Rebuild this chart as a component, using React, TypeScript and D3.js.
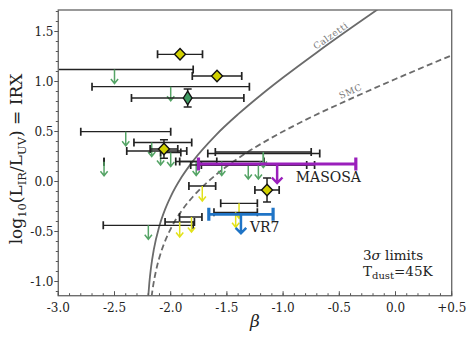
import React from "react";
import * as d3 from "d3";

// frame
const betaDomain = [-3.0, 0.5];
const irxDomain = [-1.142, 1.715];

const xTickValues = [-3.0, -2.5, -2.0, -1.5, -1.0, -0.5, 0.0, 0.5];
const xTickLabels = ["-3.0", "-2.5", "-2.0", "-1.5", "-1.0", "-0.5", "0.0", "+0.5"];
const yTickValues = [-1.0, -0.5, 0.0, 0.5, 1.0, 1.5];
const yTickLabels = ["-1.0", "-0.5", "0.0", "0.5", "1.0", "1.5"];

// IRX-beta relations, points
const calzettiBeta = [-2.2, -2.19, -2.175, -2.15, -2.1, -2.05, -2.0, -1.9, -1.8, -1.6, -1.4, -1.2, -1.0, -0.7, -0.4, -0.15];
const calzettiIrx = [-1.154, -1.013, -0.86, -0.679, -0.443, -0.279, -0.151, 0.049, 0.207, 0.462, 0.673, 0.863, 1.04, 1.291, 1.532, 1.728];
const smcBeta = [-2.17, -2.16, -2.13, -2.1, -2.05, -2.0, -1.9, -1.8, -1.6, -1.4, -1.1, -0.8, -0.4, 0.0, 0.5];
const smcIrx = [-1.152, -1.071, -0.889, -0.758, -0.596, -0.473, -0.288, -0.149, 0.065, 0.232, 0.439, 0.616, 0.826, 1.025, 1.262];

// detections (yellow diamonds)
const detBeta = [-1.917, -1.588, -2.06, -1.143];
const detIrx = [1.272, 1.055, 0.325, -0.085];
const detXerr = [0.2, 0.22, 0.123, 0.108];
const detYerr = [0, 0, 0.092, 0.12];

// stacked detection (green diamond)
const stackBeta = [-1.849];
const stackIrx = [0.835];
const stackXerr = [0.5];
const stackYerr = [0.09];

// green 3-sigma upper limits
const greenBeta = [-2.5, -2.0, -2.4, -2.169, -2.09, -2.0, -1.773, -1.546, -1.31, -1.22, -1.176, -1.176, -2.593, -2.199];
const greenIrx = [1.12, 0.948, 0.498, 0.39, 0.305, 0.29, 0.2, 0.2, 0.165, 0.165, 0.28, 0.295, 0.198, -0.438];
const greenLo = [-3.2, -2.7, -2.8, -2.327, -2.391, -2.09, -1.955, -1.92, -1.822, -1.727, -1.67, -1.603, -2.593, -2.6];
const greenHi = [-1.8, -1.3, -2.0, -1.813, -1.857, -1.91, -1.59, -1.17, -0.79, -0.72, -0.674, -0.75, -2.593, -1.8];

// yellow 3-sigma upper limits
const yellowBeta = [-1.719, -1.392, -1.422, -1.92, -1.815];
const yellowIrx = [-0.045, -0.218, -0.308, -0.405, -0.355];
const yellowLo = [-1.838, -1.555, -1.615, -2.05, -1.921];
const yellowHi = [-1.6, -1.229, -1.229, -1.789, -1.722];

// named sources
const namedLabels = ["MASOSA", "VR7"];
const namedBeta = [-1.053, -1.375];
const namedIrx = [0.175, -0.328];
const namedXerr = [0.7, 0.286];

const GREEN = "#55a466";
const YELLOW = "#e2e21a";
const DIAMOND = "#d0d000";
const STACK = "#3f9a62";
const namedColors = ["#9a1fbb", "#1f74c6"];
const CURVE = "#6b6b6b";
const INK = "#222";
const FONT = "DejaVu Serif";

const x = d3.scaleLinear().domain(betaDomain).range([58.3, 451.7]);
const y = d3.scaleLinear().domain(irxDomain).range([295.7, 10]);

const curvePath = (bs: number[], vs: number[]) =>
  d3
    .line<[number, number]>()
    .x((d) => x(d[0]))
    .y((d) => y(d[1]))
    .curve(d3.curveMonotoneX)(bs.map((b, i) => [b, vs[i]]));

const XBar = ({ lo, hi, v, cap = 4, color = INK, w = 1.3 }: any) => (
  <g stroke={color} strokeWidth={w}>
    <line x1={x(lo)} x2={x(hi)} y1={y(v)} y2={y(v)} />
    <line x1={x(lo)} x2={x(lo)} y1={y(v) - cap} y2={y(v) + cap} strokeWidth={w + 0.4} />
    <line x1={x(hi)} x2={x(hi)} y1={y(v) - cap} y2={y(v) + cap} strokeWidth={w + 0.4} />
  </g>
);

const YBar = ({ b, lo, hi, cap = 4 }: any) => (
  <g stroke={INK} strokeWidth={1.5}>
    <line x1={x(b)} x2={x(b)} y1={y(lo)} y2={y(hi)} />
    <line x1={x(b) - cap} x2={x(b) + cap} y1={y(lo)} y2={y(lo)} />
    <line x1={x(b) - cap} x2={x(b) + cap} y1={y(hi)} y2={y(hi)} />
  </g>
);

const Arrow = ({ b, v, color, len = 14, hw = 3.6, hl = 4.5, w = 1.5 }: any) => {
  const px = x(b);
  const top = y(v);
  const end = top + len;
  return (
    <path
      d={`M${px},${top}L${px},${end}M${px - hw},${end - hl}L${px},${end}L${px + hw},${end - hl}`}
      fill="none"
      stroke={color}
      strokeWidth={w}
    />
  );
};

const Diamond = ({ b, v, fill, rx = 5.5, ry = 5.8 }: any) => {
  const px = x(b);
  const py = y(v);
  return (
    <path
      d={`M${px},${py - ry}L${px + rx},${py}L${px},${py + ry}L${px - rx},${py}Z`}
      fill={fill}
      stroke="#111"
      strokeWidth={1.4}
    />
  );
};

export default function App() {
  const [x0, x1] = x.range();
  const [y0, y1] = y.range();
  const xMinor = d3.range(-30, 6).map((i) => i / 10);
  const yMinor = d3.range(-11, 18).map((i) => i / 10);

  // points on the curves where the labels sit
  const calLab = [-0.55, 1.415];
  const smcLab = [-0.38, 0.85];

  return (
    <svg
      width={474}
      height={346}
      style={{ position: "absolute", left: 0, top: 0, background: "#fff" }}
      fontFamily={FONT}
    >
      <defs>
        <clipPath id="plotArea">
          <rect x={x0} y={y1} width={x1 - x0} height={y0 - y1} />
        </clipPath>
      </defs>

      <g clipPath="url(#plotArea)">
        <path d={curvePath(calzettiBeta, calzettiIrx) || ""} fill="none" stroke={CURVE} strokeWidth={1.8} />
        <path
          d={curvePath(smcBeta, smcIrx) || ""}
          fill="none"
          stroke={CURVE}
          strokeWidth={1.8}
          strokeDasharray="6,3.5"
        />
        <text
          transform={`translate(${x(calLab[0])},${y(calLab[1])}) rotate(-35)`}
          y={-2}
          textAnchor="middle"
          fontSize={9}
          letterSpacing={0.6}
          fill="#777"
        >
          Calzetti
        </text>
        <text
          transform={`translate(${x(smcLab[0])},${y(smcLab[1])}) rotate(-24)`}
          y={-2.5}
          textAnchor="middle"
          fontSize={9}
          letterSpacing={0.6}
          fill="#777"
        >
          SMC
        </text>

        {/* green upper limits */}
        {greenBeta.map((b, i) => (
          <g key={"g" + i}>
            <XBar lo={greenLo[i]} hi={greenHi[i]} v={greenIrx[i]} />
            <Arrow b={b} v={greenIrx[i]} color={GREEN} />
          </g>
        ))}

        {/* yellow upper limits */}
        {yellowBeta.map((b, i) => (
          <g key={"y" + i}>
            <XBar lo={yellowLo[i]} hi={yellowHi[i]} v={yellowIrx[i]} />
            <Arrow b={b} v={yellowIrx[i]} color={YELLOW} len={15} />
          </g>
        ))}

        {/* named limits */}
        {namedBeta.map((b, i) => (
          <g key={"n" + i}>
            <XBar
              lo={b - namedXerr[i]}
              hi={b + namedXerr[i]}
              v={namedIrx[i]}
              cap={6.5}
              color={namedColors[i]}
              w={2.8}
            />
            <Arrow b={b} v={namedIrx[i]} color={namedColors[i]} len={19} hw={5.3} hl={5.5} w={2.5} />
          </g>
        ))}

        {/* stacked detection */}
        {stackBeta.map((b, i) => (
          <g key={"s" + i}>
            <XBar lo={b - stackXerr[i]} hi={b + stackXerr[i]} v={stackIrx[i]} />
            <YBar b={b} lo={stackIrx[i] - stackYerr[i]} hi={stackIrx[i] + stackYerr[i]} />
            <Diamond b={b} v={stackIrx[i]} fill={STACK} rx={4.3} ry={6.8} />
          </g>
        ))}

        {/* detections */}
        {detBeta.map((b, i) => (
          <g key={"d" + i}>
            <XBar lo={b - detXerr[i]} hi={b + detXerr[i]} v={detIrx[i]} />
            {detYerr[i] > 0 && <YBar b={b} lo={detIrx[i] - detYerr[i]} hi={detIrx[i] + detYerr[i]} />}
            <Diamond b={b} v={detIrx[i]} fill={DIAMOND} />
          </g>
        ))}
      </g>

      {/* labels of the named sources */}
      <text x={x(namedBeta[0] + 0.165)} y={y(namedIrx[0]) + 17.7} fontSize={14} fill={INK}>
        {namedLabels[0]}
      </text>
      <text x={x(namedBeta[1] + 0.08)} y={y(namedIrx[1]) + 18} fontSize={14} fill={INK}>
        {namedLabels[1]}
      </text>

      {/* frame */}
      <rect x={x0} y={y1} width={x1 - x0} height={y0 - y1} fill="none" stroke="#6e6e6e" strokeWidth={1.4} />

      {/* ticks: x inward, y outward */}
      <g stroke="#555" strokeWidth={1}>
        {xMinor.map((t) => (
          <line key={"xm" + t} x1={x(t)} x2={x(t)} y1={y0} y2={y0 - 2.5} />
        ))}
        {xTickValues.map((t) => (
          <line key={"xM" + t} x1={x(t)} x2={x(t)} y1={y0} y2={y0 - 4.5} />
        ))}
        {yMinor.map((t) => (
          <line key={"ym" + t} x1={x0} x2={x0 - 2.5} y1={y(t)} y2={y(t)} />
        ))}
        {yTickValues.map((t) => (
          <line key={"yM" + t} x1={x0} x2={x0 - 4} y1={y(t)} y2={y(t)} />
        ))}
      </g>
      {xTickValues.map((t, i) => (
        <text key={"xl" + t} x={x(t)} y={311.5} textAnchor="middle" fontSize={12} fill={INK}>
          {xTickLabels[i]}
        </text>
      ))}
      {yTickValues.map((t, i) => (
        <text key={"yl" + t} x={53.5} y={y(t) + 4.3} textAnchor="end" fontSize={12} fill={INK}>
          {yTickLabels[i]}
        </text>
      ))}

      {/* axis titles */}
      <text x={255} y={327} textAnchor="middle" fontSize={17} fontStyle="italic" fill={INK}>
        β
      </text>
      <text transform="translate(22,159) rotate(-90)" textAnchor="middle" fontSize={17} fill={INK}>
        log
        <tspan fontSize={11.5} dy={4}>10</tspan>
        <tspan dy={-4}>(L</tspan>
        <tspan fontSize={11.5} dy={4}>IR</tspan>
        <tspan dy={-4}>/L</tspan>
        <tspan fontSize={11.5} dy={4}>UV</tspan>
        <tspan dy={-4}>) = IRX</tspan>
      </text>

      {/* note */}
      <text x={363} y={259.5} fontSize={13.5} fill={INK}>
        3<tspan fontStyle="italic">σ</tspan> limits
      </text>
      <text x={363} y={276} fontSize={13.5} fill={INK}>
        T<tspan fontSize={10} dy={3}>dust</tspan>
        <tspan dy={-3}>=45K</tspan>
      </text>
    </svg>
  );
}
